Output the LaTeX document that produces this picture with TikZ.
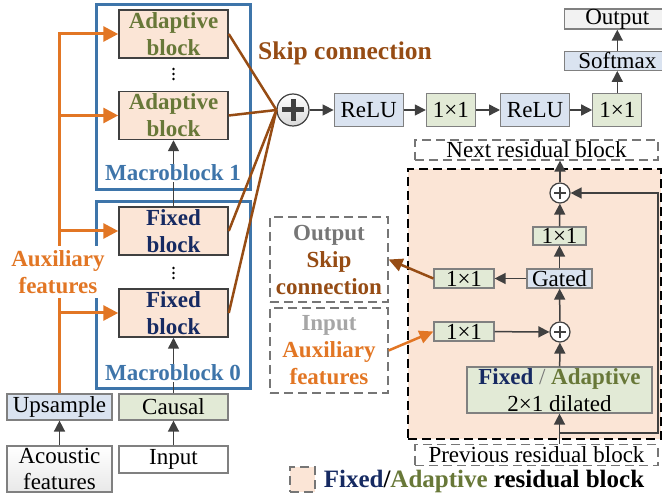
\documentclass[tikz,border=0pt]{standalone}
\usepackage{fontspec}
\setmainfont{Liberation Serif}
\usetikzlibrary{arrows.meta,positioning}
\definecolor{macroblue}{RGB}{62,117,170}
\definecolor{auxorange}{RGB}{226,118,36}
\definecolor{skipbrown}{RGB}{150,76,20}
\definecolor{adagreen}{RGB}{104,120,56}
\definecolor{fixblue}{RGB}{22,42,98}
\definecolor{peach}{RGB}{251,229,214}
\definecolor{opblue}{RGB}{218,227,240}
\definecolor{opgreen}{RGB}{226,234,214}
\definecolor{outgray}{RGB}{242,242,242}
\definecolor{linegray}{RGB}{64,64,64}
\definecolor{dashgray}{RGB}{118,118,118}
\definecolor{ingray}{RGB}{166,166,166}
\tikzset{
    %Define standard arrow tip
    >={Triangle[length=11pt,width=11pt]},
    % Define arrow styles
    pil/.style={
           ->,
           draw=linegray,
           line width=1.5pt,},
    auxpil/.style={
           ->,
           draw=auxorange,
           line width=3pt,
           >={Triangle[length=15pt,width=15pt]},},
    skip/.style={
           draw=skipbrown,
           line width=2.5pt,}
}

\begin{document}
\begin{tikzpicture}[x=1pt, y=-1pt,
font=\fontsize{23}{27}\selectfont,
bold/.style={font=\fontsize{23}{27}\selectfont\bfseries},
macro/.style={draw=macroblue, line width=3pt, minimum width=154pt, inner sep=0pt},
blk/.style={draw=linegray, line width=1.5pt, fill=peach, minimum width=109pt,
  minimum height=48pt, inner sep=0pt, align=center, bold},
op/.style={draw=gray, line width=1.2pt, inner sep=0pt, minimum height=19pt},
dashbox/.style={draw=dashgray, line width=1.2pt, dash pattern=on 9pt off 5pt, inner sep=0pt},
bigsum/.style={circle, draw=linegray, line width=1.2pt, top color=white, bottom color=gray!30,
  minimum size=32pt, inner sep=0pt,
  path picture={\draw[linegray, line width=5pt]
    (path picture bounding box.center) ++(-11pt,0pt) -- ++(22pt,0pt)
    (path picture bounding box.center) ++(0pt,-11pt) -- ++(0pt,22pt);}},
smallsum/.style={circle, draw=linegray, line width=1.2pt, fill=white,
  minimum size=20pt, inner sep=0pt,
  path picture={\draw[linegray, line width=2pt]
    (path picture bounding box.center) ++(-6pt,0pt) -- ++(12pt,0pt)
    (path picture bounding box.center) ++(0pt,-6pt) -- ++(0pt,12pt);}},
]
\useasboundingbox (0,0) rectangle (662,497);

%Macroblocks
\node[macro, minimum height=185pt] (mb1) at (173,97.5) {};
\node[macro, minimum height=186pt] (mb0) at (173,295) {};

\node[blk, text=adagreen] (ada1) at (173.5,34) {Adaptive\\block};
\node[blk, text=adagreen] (ada2) at (173.5,115.5) {Adaptive\\block};
\node[blk, text=fixblue] (fix1) at (173.5,231) {Fixed\\block};
\node[blk, text=fixblue] (fix2) at (173.5,313) {Fixed\\block};
\foreach \y in {69,74,79,268,273,278}
  \fill[black] (173.5,\y) circle (1.3pt);

%Inputs
\node[op, top color=white, bottom color=gray!18, minimum width=105pt, minimum height=46pt, align=center,
  font=\fontsize{23}{26}\selectfont] (acou) at (59.5,469) {Acoustic\\features};
\node[op, fill=opblue, minimum width=105pt, minimum height=26pt] (ups) at (59.5,407) {Upsample};
\node[op, fill=opgreen, minimum width=109pt, minimum height=26pt] (causal) at (173.5,407) {Causal};
\node[op, fill=white, minimum width=109pt, minimum height=27pt] (input) at (173.5,459.5) {Input};

\draw[pil] (acou) -- (ups);
\draw[pil] (input) -- (causal);
\draw[pil] (causal) -- (fix2);
\draw[pil] (fix1) -- (ada2);
\node[bold, fill=white, text=macroblue, inner sep=1pt] (mb1lab) at (173,173) {Macroblock 1};
\node[bold, fill=white, text=macroblue, inner sep=1pt] (mb0lab) at (173,373) {Macroblock 0};

%Auxiliary features
\draw[auxpil] (ups.north) -- (ups.north |- ada1.west) -- (ada1.west);
\draw[auxpil] (ups.north |- ada2.west) -- (ada2.west);
\draw[auxpil] (ups.north |- fix1.west) -- (fix1.west);
\draw[auxpil] (ups.north |- fix2.west) -- (fix2.west);
\node[bold, fill=white, text=auxorange, align=center, inner sep=4pt] (auxlab) at (58,272) {Auxiliary\\features};

%Skip connections
\node[bigsum] (sum) at (293,110) {};
\draw[skip] (ada1.east) -- (sum.west);
\draw[skip] (ada2.east) -- (sum.west);
\draw[skip] (fix1.east) -- (sum.west);
\draw[skip] (fix2.east) -- (sum.west);
\node[font=\fontsize{25.5}{30}\selectfont\bfseries, text=skipbrown] (skiplab) at (345,53) {Skip connection};

%Output layers
\node[op, fill=opblue, minimum width=69pt, minimum height=33pt, right=24pt of sum] (relu1) {ReLU};
\node[op, fill=opgreen, minimum width=49pt, minimum height=33pt, right=22pt of relu1] (conv1) {1×1};
\node[op, fill=opblue, minimum width=69pt, minimum height=33pt, right=24pt of conv1] (relu2) {ReLU};
\node[op, fill=opgreen, minimum width=49pt, minimum height=33pt, right=22pt of relu2] (conv2) {1×1};
\node[op, fill=opblue, minimum width=106pt, above=22pt of conv2] (softmax) {Softmax};
\node[op, fill=outgray, minimum width=106pt, minimum height=20pt, above=21pt of softmax] (output) {Output};

\draw[pil] (sum) -- (relu1);
\draw[pil] (relu1) -- (conv1);
\draw[pil] (conv1) -- (relu2);
\draw[pil] (relu2) -- (conv2);
\draw[pil] (conv2) -- (softmax);
\draw[pil] (softmax) -- (output);

%Residual block
\node[draw=black, line width=1.2pt, dash pattern=on 9pt off 5pt, fill=peach,
  minimum width=253pt, minimum height=270pt, inner sep=0pt] (resblock) at (534.5,304) {};
\node[dashbox, minimum width=243pt, minimum height=20pt] (next) at (536.5,150) {Next residual block};
\node[dashbox, fill=white, minimum width=243pt, minimum height=21pt] (prev) at (536.5,455) {Previous residual block};

\node[smallsum] (sum2) at (560,193) {};
\node[op, fill=opgreen, minimum width=53pt, minimum height=18pt] (conv3) at (559.5,236) {1×1};
\node[op, fill=opblue, minimum width=65pt] (gated) at (559.5,278.5) {Gated};
\node[op, fill=opgreen, minimum width=60pt] (skipconv) at (464,278.5) {1×1};
\node[op, fill=opgreen, minimum width=60pt] (auxconv) at (464,331.5) {1×1};
\node[smallsum] (sum1) at (560,332) {};
\node[op, fill=opgreen, minimum width=185pt, minimum height=46pt, align=center] (dilated) at (559.5,390)
  {\textbf{\textcolor{fixblue}{Fixed}} \textcolor{dashgray}{/} \textbf{\textcolor{adagreen}{Adaptive}}\\2×1 dilated};
\coordinate (resright) at (658,433);

\draw[pil] (prev.north -| dilated) -- (dilated);
\draw[pil] (dilated) -- (sum1);
\draw[pil] (sum1) -- (gated);
\draw[pil] (gated) -- (conv3);
\draw[pil] (conv3) -- (sum2);
\draw[pil] (sum2) -- (sum2 |- next.south);
\draw[pil] (gated) -- (skipconv);
\draw[pil] (auxconv) -- (sum1);
\draw[pil] (dilated |- resright) -- (resright) -- (resright |- sum2) -- (sum2);

%Block inputs and outputs
\node[dashbox, minimum width=118pt, minimum height=85pt, align=center, bold] (outbox) at (329,259.5)
  {\textcolor{dashgray}{Output}\\\textcolor{skipbrown}{Skip}\\\textcolor{skipbrown}{connection}};
\node[dashbox, minimum width=118pt, minimum height=85pt, align=center, bold] (inbox) at (329,350.5)
  {\textcolor{ingray}{Input}\\\textcolor{auxorange}{Auxiliary}\\\textcolor{auxorange}{features}};
\draw[skip, ->, >={Triangle[length=14pt,width=13pt]}] (skipconv.west) -- (outbox.east);
\draw[auxpil, line width=2.5pt, >={Triangle[length=14pt,width=13pt]}] (inbox.east) -- (auxconv.west);

%Legend
\node[dashbox, fill=peach, minimum size=25pt] (legbox) at (302.5,479.5) {};
\node[font=\fontsize{25}{30}\selectfont\bfseries, right=8pt of legbox, inner sep=0pt, yshift=-2pt] (legtext)
  {\textcolor{fixblue}{Fixed}/\textcolor{adagreen}{Adaptive} residual block};

\end{tikzpicture}
\end{document}
